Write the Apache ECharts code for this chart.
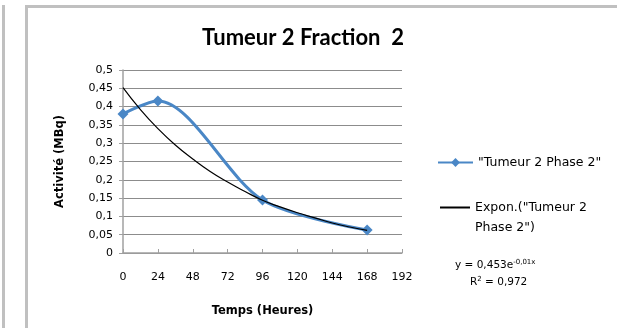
<!DOCTYPE html>
<html>
<head>
<meta charset="utf-8">
<script src="https://cdn.jsdelivr.net/npm/echarts@6/dist/echarts.min.js"></script>
<style>html,body{margin:0;padding:0;background:#fff;}#c{width:617px;height:328px;}</style>
</head>
<body>
<div id="c"></div>
<script>
const hours = [0, 24, 96, 168];
const activity = [0.38, 0.415, 0.145, 0.063];
const trendHours = [0, 12, 24, 36, 48, 60, 72, 84, 96, 108, 120, 132, 144, 156, 168];
const trendValues = [0.452, 0.392, 0.340, 0.295, 0.257, 0.223, 0.194, 0.168, 0.144, 0.126, 0.110, 0.096, 0.082, 0.071, 0.062];
const xTicks = [0, 24, 48, 72, 96, 120, 144, 168, 192];
const yTicks = [0, 0.05, 0.1, 0.15, 0.2, 0.25, 0.3, 0.35, 0.4, 0.45, 0.5];
const seriesName = '"Tumeur 2 Phase 2"';
const trendName = 'Expon.("Tumeur 2 Phase 2")';
const trendLine1 = 'Expon.("Tumeur 2';
const trendLine2 = 'Phase 2")';

const titleFont = 'Lato, "Open Sans", sans-serif';
const font = '"DejaVu Sans", Verdana, sans-serif';
const fmt = v => String(+(+v).toFixed(2)).replace('.', ',');

const chart = echarts.init(document.getElementById('c'));
chart.setOption({
  backgroundColor: '#fff',
  animation: false,
  title: {
    text: 'Tumeur 2 Fraction  2',
    left: 303, top: 27, textAlign: 'center', padding: 0,
    textStyle: { fontFamily: titleFont, fontSize: 22, fontWeight: 'bold', color: '#000' }
  },
  grid: { left: 123, right: 215, top: 70, bottom: 75 },
  xAxis: {
    type: 'value', min: xTicks[0], max: xTicks[xTicks.length - 1], interval: 24,
    name: 'Temps (Heures)', nameLocation: 'middle', nameGap: 52,
    nameTextStyle: { fontFamily: font, fontSize: 11.5, fontWeight: 'bold', color: '#000' },
    axisLine: { lineStyle: { color: '#a0a0a0', width: 1.5 } },
    axisTick: { show: true, inside: true, length: 4, lineStyle: { color: '#a0a0a0' } },
    axisLabel: { fontFamily: font, fontSize: 11, color: '#000', margin: 19, formatter: fmt },
    splitLine: { show: false }
  },
  yAxis: {
    type: 'value', min: yTicks[0], max: yTicks[yTicks.length - 1], interval: 0.05,
    name: 'Activité (MBq)', nameLocation: 'middle', nameGap: 57, nameRotate: 90,
    nameTextStyle: { fontFamily: font, fontSize: 11.5, fontWeight: 'bold', color: '#000' },
    axisLine: { show: true, lineStyle: { color: '#a0a0a0', width: 1.5 } },
    axisTick: { show: true, length: 4, lineStyle: { color: '#a0a0a0' } },
    axisLabel: { fontFamily: font, fontSize: 11, color: '#000', margin: 10, formatter: fmt },
    splitLine: { show: true, lineStyle: { color: '#8c8c8c', width: 1 } }
  },
  legend: [{
    data: [{ name: seriesName }],
    left: 437, top: 156, padding: 0, itemWidth: 35, itemHeight: 11, itemGap: 3,
    textStyle: { fontFamily: font, fontSize: 12.5, color: '#000' }
  }, {
    data: [{ name: trendName, icon: 'rect' }],
    left: 440, top: 201, padding: 0, itemWidth: 30, itemHeight: 2, itemGap: 4,
    formatter: () => trendLine1,
    textStyle: { fontFamily: font, fontSize: 12.5, color: '#000' }
  }],
  series: [{
    name: seriesName, type: 'line', smooth: 0.3,
    data: hours.map((h, i) => [h, activity[i]]),
    symbol: 'diamond', symbolSize: 11,
    itemStyle: { color: '#4a87c6' },
    lineStyle: { color: '#4a87c6', width: 3 },
    z: 3
  }, {
    name: trendName, type: 'line', smooth: true,
    data: trendHours.map((h, i) => [h, trendValues[i]]),
    symbol: 'none', showSymbol: false,
    itemStyle: { color: '#000' },
    lineStyle: { color: '#000', width: 1.2 },
    z: 4
  }],
  graphic: [
    { type: 'rect', shape: { x: 2, y: 5, width: 3, height: 323 }, style: { fill: '#c0c0c0' }, silent: true },
    { type: 'rect', shape: { x: 25, y: 5, width: 3, height: 323 }, style: { fill: '#c0c0c0' }, silent: true },
    { type: 'rect', shape: { x: 25, y: 5, width: 592, height: 3 }, style: { fill: '#c0c0c0' }, silent: true },
    { type: 'text', left: 475, top: 221, style: { text: trendLine2, font: '12.5px "DejaVu Sans", Verdana, sans-serif', fill: '#000' } },
    { type: 'text', left: 455, top: 259, style: {
        text: '{a|y = 0,453e}{s|-0,01x}',
        rich: { a: { fontFamily: font, fontSize: 10.5, fill: '#000' }, s: { fontFamily: font, fontSize: 7, fill: '#000', padding: [0, 0, 6, 0] } }
      } },
    { type: 'text', left: 470, top: 276, style: {
        text: '{a|R}{s|2}{a| = 0,972}',
        rich: { a: { fontFamily: font, fontSize: 10.5, fill: '#000' }, s: { fontFamily: font, fontSize: 7, fill: '#000', padding: [0, 0, 6, 0] } }
      } }
  ]
});
</script>
</body>
</html>
